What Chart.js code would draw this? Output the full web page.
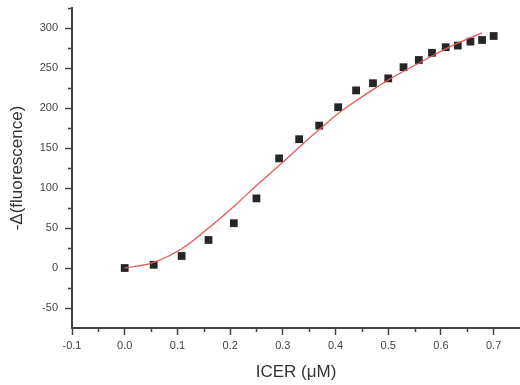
<!DOCTYPE html>
<html>
<head>
<meta charset="utf-8">
<script src="https://cdn.jsdelivr.net/npm/chart.js@4.4.1/dist/chart.umd.min.js"></script>
<style>
  html, body { margin: 0; padding: 0; background: #fff; }
  #wrap { width: 520px; height: 385px; }
</style>
</head>
<body>
<div id="wrap"><canvas id="titration"></canvas></div>
<script>
// measured points
const icerConc = [0.0, 0.055, 0.108, 0.159, 0.207, 0.25, 0.293, 0.331, 0.369, 0.405, 0.439, 0.471, 0.50, 0.529, 0.558, 0.583, 0.609, 0.632, 0.656, 0.678, 0.70];
const fluorDelta = [0, 4, 15, 35, 56, 87, 137, 161, 178, 201, 222, 231, 237, 251, 260, 269, 276, 278, 283, 285, 290];

// fitted curve
const fitConc = [0.0, 0.055, 0.108, 0.159, 0.207, 0.25, 0.293, 0.331, 0.369, 0.405, 0.439, 0.471, 0.50, 0.529, 0.558, 0.583, 0.609, 0.632, 0.656, 0.678];
const fitDelta = [0, 7, 24, 50, 77, 103, 128, 151, 173, 193, 209, 223, 235, 246, 256, 265, 274, 281, 288, 294];

const xTicks = [-0.1, 0.0, 0.1, 0.2, 0.3, 0.4, 0.5, 0.6, 0.7];
const xMinor = [-0.05, 0.05, 0.15, 0.25, 0.35, 0.45, 0.55, 0.65];
const yTicks = [-50, 0, 50, 100, 150, 200, 250, 300];
const yMinor = [-25, 25, 75, 125, 175, 225, 275, 325];

const axisColor = '#444';

// Chart.js has no minor ticks, so draw short ones from the scales
const minorTicks = {
    id: 'minorTicks',
    afterDraw(chart) {
        const ctx = chart.ctx;
        const xs = chart.scales.x, ys = chart.scales.y;
        ctx.save();
        ctx.strokeStyle = axisColor;
        ctx.lineWidth = 1.5;
        ctx.beginPath();
        xMinor.forEach(v => {
            const px = Math.round(xs.getPixelForValue(v)) + 0.5;
            ctx.moveTo(px, xs.top);
            ctx.lineTo(px, xs.top + 4);
        });
        yMinor.forEach(v => {
            const py = Math.round(ys.getPixelForValue(v)) + 0.5;
            ctx.moveTo(ys.right, py);
            ctx.lineTo(ys.right - 4, py);
        });
        ctx.stroke();
        ctx.restore();
    }
};

const tickFont = { family: 'Arial, "Liberation Sans"', size: 11 };
const titleFont = { family: 'Arial, "Liberation Sans"', size: 17 };

new Chart(document.getElementById('titration'), {
    type: 'scatter',
    data: {
        datasets: [
            {
                type: 'line',
                label: 'fit',
                data: fitConc.map((x, i) => ({ x: x, y: fitDelta[i] })),
                borderColor: '#e05a5a',
                borderWidth: 1.3,
                pointRadius: 0,
                tension: 0.4,
                fill: false
            },
            {
                label: 'data',
                data: icerConc.map((x, i) => ({ x: x, y: fluorDelta[i] })),
                pointStyle: 'rect',
                pointRadius: 5.5,
                backgroundColor: '#262626',
                borderColor: '#262626',
                borderWidth: 0
            }
        ]
    },
    options: {
        responsive: true,
        maintainAspectRatio: false,
        animation: false,
        layout: { autoPadding: false, padding: { top: 8, right: 0, left: 0, bottom: 0 } },
        plugins: {
            legend: { display: false },
            tooltip: { enabled: false }
        },
        scales: {
            x: {
                type: 'linear',
                min: -0.1,
                max: 0.75,
                afterBuildTicks: s => { s.ticks = xTicks.map(v => ({ value: v })); },
                afterFit: s => { s.height = 57; s.paddingLeft = 0; s.paddingRight = 0; },
                grid: { drawOnChartArea: false, drawTicks: true, tickLength: 7, tickColor: axisColor, tickWidth: 1.5 },
                border: { display: true, color: axisColor, width: 2 },
                ticks: {
                    color: '#444',
                    font: tickFont,
                    padding: 4,
                    maxRotation: 0,
                    callback: v => v.toFixed(1)
                },
                title: {
                    display: true,
                    text: 'ICER (μM)',
                    color: '#333',
                    font: titleFont,
                    padding: { top: 0, bottom: 2 }
                }
            },
            y: {
                type: 'linear',
                min: -75,
                max: 325,
                afterBuildTicks: s => { s.ticks = yTicks.map(v => ({ value: v })); },
                afterFit: s => { s.width = 72; s.paddingTop = 0; s.paddingBottom = 0; },
                grid: { drawOnChartArea: false, drawTicks: true, tickLength: 7, tickColor: axisColor, tickWidth: 1.5 },
                border: { display: true, color: axisColor, width: 2 },
                ticks: {
                    color: '#444',
                    font: tickFont,
                    padding: 7,
                    callback: v => String(v)
                },
                title: {
                    display: true,
                    text: '-Δ(fluorescence)',
                    color: '#333',
                    font: titleFont,
                    padding: { top: 7, bottom: 0 }
                }
            }
        }
    },
    plugins: [minorTicks]
});
</script>
</body>
</html>
